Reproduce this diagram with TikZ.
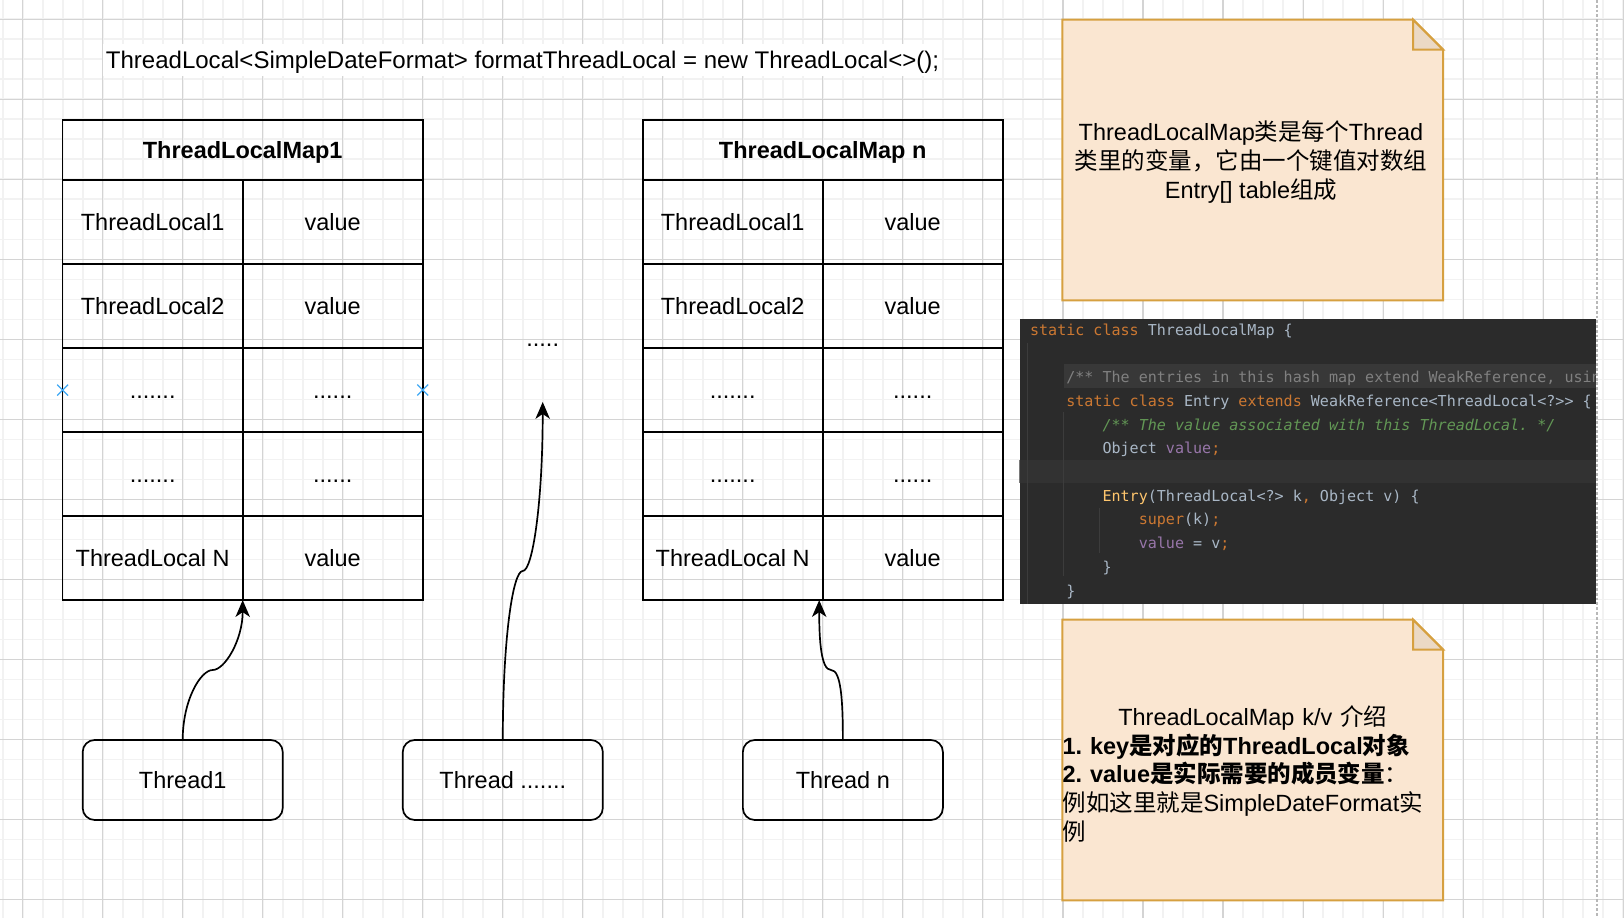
\documentclass[tikz,border=0pt]{standalone}
\usepackage{fontspec}
\setmainfont{Liberation Sans}
\newfontfamily\cjk{Noto Sans CJK SC}
\newfontfamily\jbmono{DejaVu Sans Mono}
\usepackage{tikz}
\usetikzlibrary{shapes.misc,arrows.meta,positioning,calc}
\frenchspacing

\definecolor{gridminor}{HTML}{F2F2F2}
\definecolor{gridmajor}{HTML}{D4D4D4}
\definecolor{pagebreak}{HTML}{B8B8B8}
\definecolor{notefill}{HTML}{FAE6D1}
\definecolor{foldfill}{HTML}{EBD9C5}
\definecolor{noteline}{HTML}{D6A040}
\definecolor{handleblue}{HTML}{3FA9F5}
\definecolor{codebg}{HTML}{2B2B2B}
\definecolor{codeline}{HTML}{323232}
\definecolor{codeband}{HTML}{383838}
\definecolor{codeguide}{HTML}{3C3C3C}
\definecolor{codefg}{HTML}{A9B7C6}
\definecolor{codekw}{HTML}{CC7832}
\definecolor{codegray}{HTML}{808080}
\definecolor{codedoc}{HTML}{629755}
\definecolor{codefield}{HTML}{9876AA}
\definecolor{codefn}{HTML}{FFC66D}

\newcommand{\zh}[1]{{\cjk #1}}
\newcommand{\kw}[1]{\textcolor{codekw}{#1}}

\begin{document}
\begin{tikzpicture}[
    x=0.025cm, y=-0.025cm,
    txt/.style={font=\fontsize{16.7}{20.3}\selectfont, text height=15pt, text depth=3.5pt},
    hdrcell/.style={rectangle, draw=black, line width=1.2pt, minimum width=9cm, minimum height=1.5cm, inner sep=0pt, outer sep=0pt, txt, font=\fontsize{16.7}{20.3}\selectfont\bfseries},
    cell/.style={rectangle, draw=black, line width=1.2pt, minimum width=4.5cm, minimum height=2.1cm, inner sep=0pt, outer sep=0pt, txt},
    thread/.style={rectangle, rounded corners=0.3cm, draw=black, line width=1.2pt, minimum width=5cm, minimum height=2cm, outer sep=0pt, txt},
    arrow/.style={-{Stealth[length=0.42cm, width=0.36cm, inset=0.12cm]}, line width=1.2pt},
    handle/.style={cross out, draw=handleblue, line width=0.9pt, minimum size=0.24cm, inner sep=0pt},
    notebox/.style={rectangle, minimum width=9.5cm, minimum height=7cm, inner sep=0pt},
    notepaper/.style={fill=notefill, draw=noteline, line width=1.4pt},
    notefold/.style={fill=foldfill, draw=noteline, line width=1.4pt},
    notetext/.style={inner sep=0pt, font=\fontsize{16.7}{20.3}\selectfont},
    codetext/.style={inner sep=0pt, align=left, text=codefg, font=\jbmono\fontsize{10.7}{16.86}\selectfont}
]

% canvas and grid
\useasboundingbox (0,0) rectangle (1624,918);
\fill[white] (0,0) rectangle (1624,918);
\begin{scope}[shift={(22.7,19.3)}]
\draw[gridminor, line width=1.2pt, step=0.5cm] (-40,920) grid (1620,-40);
\draw[gridmajor, line width=0.75pt, step=2cm] (-40,920) grid (1620,-40);
\end{scope}

\node[txt, fill=white, inner sep=2pt, font=\fontsize{17.1}{20.3}\selectfont] (decl) at (522.5,60) {ThreadLocal<SimpleDateFormat> formatThreadLocal = new ThreadLocal<>();};

% first map
\node[hdrcell] (m1h) at (242.7,150) {ThreadLocalMap1};
\node[cell, anchor=north west] (m1k1) at (m1h.south west) {ThreadLocal1};
\node[cell, right=0pt of m1k1] (m1v1) {value};
\node[cell, below=0pt of m1k1] (m1k2) {ThreadLocal2};
\node[cell, right=0pt of m1k2] (m1v2) {value};
\node[cell, below=0pt of m1k2] (m1k3) {.......};
\node[cell, right=0pt of m1k3] (m1v3) {......};
\node[cell, below=0pt of m1k3] (m1k4) {.......};
\node[cell, right=0pt of m1k4] (m1v4) {......};
\node[cell, below=0pt of m1k4] (m1k5) {ThreadLocal N};
\node[cell, right=0pt of m1k5] (m1v5) {value};
\node[handle] (hl) at (m1k3.west) {};
\node[handle] (hr) at (m1v3.east) {};

% last map
\node[hdrcell] (m2h) at (822.7,150) {ThreadLocalMap n};
\node[cell, anchor=north west] (m2k1) at (m2h.south west) {ThreadLocal1};
\node[cell, right=0pt of m2k1] (m2v1) {value};
\node[cell, below=0pt of m2k1] (m2k2) {ThreadLocal2};
\node[cell, right=0pt of m2k2] (m2v2) {value};
\node[cell, below=0pt of m2k2] (m2k3) {.......};
\node[cell, right=0pt of m2k3] (m2v3) {......};
\node[cell, below=0pt of m2k3] (m2k4) {.......};
\node[cell, right=0pt of m2k4] (m2v4) {......};
\node[cell, below=0pt of m2k4] (m2k5) {ThreadLocal N};
\node[cell, right=0pt of m2k5] (m2v5) {value};

\node[txt, inner sep=0pt] (gapdots) at (542.7,338) {.....};
\coordinate (gaptip) at (542.7,402);

% threads
\node[thread] (thr1) at (182.7,780) {Thread1};
\node[thread, right=3cm of thr1] (thrd) {Thread .......};
\node[thread, right=3.5cm of thrd] (thrn) {Thread n};

\coordinate (bend1) at (212.7,670);
\coordinate (bendd) at (522.7,571);
\coordinate (bendn) at (831,670);

\draw[arrow] (thr1.north) to[out=90, in=180, out distance=1cm, in distance=0.3cm] (bend1) to[out=0, in=-90, out distance=0.3cm, in distance=1cm] (m1k5.south east);
\draw[arrow] (thrd.north) to[out=90, in=180, out distance=2.5cm, in distance=0.25cm] (bendd) to[out=0, in=-90, out distance=0.25cm, in distance=2.5cm] (gaptip);
\draw[arrow] (thrn.north) to[out=90, in=0, out distance=1cm, in distance=0.25cm] (bendn) to[out=180, in=-90, out distance=0.25cm, in distance=1cm] ($(m2k5.south east)+(-3.5,0)$);

% notes
\node[notebox] (note1) at (1252.7,160) {};
\draw[notepaper] (note1.north west) -- ($(note1.north east)+(-30,0)$) -- ($(note1.north east)+(0,30)$) -- (note1.south east) -- (note1.south west) -- cycle;
\draw[notefold] ($(note1.north east)+(-30,0)$) -- ($(note1.north east)+(-30,30)$) -- ($(note1.north east)+(0,30)$) -- cycle;
\node[notetext, align=center] (note1t) at (1251,162) {ThreadLocalMap\zh{类是每个}Thread\\\zh{类里的变量，它由一个键值对数组}\\Entry[] table\zh{组成}};

\node[notebox] (note2) at (1252.7,760) {};
\draw[notepaper] (note2.north west) -- ($(note2.north east)+(-30,0)$) -- ($(note2.north east)+(0,30)$) -- (note2.south east) -- (note2.south west) -- cycle;
\draw[notefold] ($(note2.north east)+(-30,0)$) -- ($(note2.north east)+(-30,30)$) -- ($(note2.north east)+(0,30)$) -- cycle;
\node[notetext, text width=9.5cm, align=left] (note2t) at (1252.7,774) {\makebox[9.5cm][c]{ThreadLocalMap k/v \zh{介绍}}\\
\textbf{1. key\zh{是对应的}ThreadLocal\zh{对象}}\\
\textbf{2. value\zh{是实际需要的成员变量}}\zh{：}\\
\zh{例如这里就是}SimpleDateFormat\zh{实}\\
\zh{例}};

% code snippet
\node[rectangle, fill=codebg, minimum width=14.4cm, minimum height=7.125cm, inner sep=0pt] (code) at (1307.6,461.5) {};
\begin{scope}
\clip (code.south west) rectangle (code.north east);
\fill[codeband] (1064,364.5) rectangle (1600,388);
\fill[codeline] (1015,459.5) rectangle (1600,483);
\draw[codeguide, line width=0.7pt] (1027.5,343) -- (1027.5,604);
\draw[codeguide, line width=0.7pt] (1063.5,412) -- (1063.5,576);
\draw[codeguide, line width=0.7pt] (1099.5,508) -- (1099.5,553);
\node[codetext, anchor=north west] (codet) at (1029.8,323.5) {\kw{static class} ThreadLocalMap \{\\
\mbox{}\\
\hphantom{0000}\textcolor{codegray}{/** The entries in this hash map extend WeakReference, usin}\\
\hphantom{0000}\kw{static class} Entry \kw{extends} WeakReference<ThreadLocal<?>> \{\\
\hphantom{00000000}\textcolor{codedoc}{\itshape /** The value associated with this ThreadLocal. */}\\
\hphantom{00000000}Object \textcolor{codefield}{value}\kw{;}\\
\mbox{}\\
\hphantom{00000000}\textcolor{codefn}{Entry}(ThreadLocal<?> k\kw{,} Object v) \{\\
\hphantom{000000000000}\kw{super}(k)\kw{;}\\
\hphantom{000000000000}\textcolor{codefield}{value} = v\kw{;}\\
\hphantom{00000000}\}\\
\hphantom{0000}\}};
\end{scope}

\draw[pagebreak, line width=1.2pt, dash pattern=on 2pt off 1.4pt] (1596.7,0) -- (1596.7,918);

\end{tikzpicture}
\end{document}
